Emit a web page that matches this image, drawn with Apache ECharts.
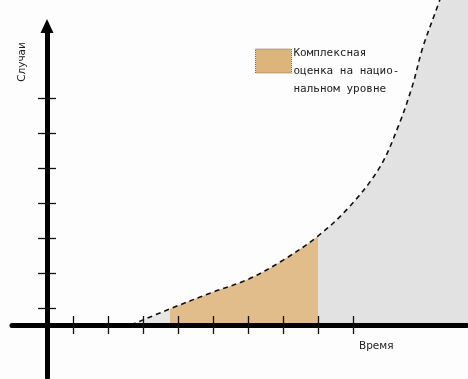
<!DOCTYPE html>
<html>
<head>
<meta charset="utf-8">
<script src="https://cdn.jsdelivr.net/npm/echarts@6.0.0/dist/echarts.min.js"></script>
<style>
  html, body { margin: 0; padding: 0; background: #fdfdfd; }
  #chart { width: 468px; height: 379px; }
</style>
</head>
<body>
<div id="chart"></div>
<script>
// epidemic curve, in tick units (time, cases)
const times = [2.4, 3.51, 4.74, 5.71, 6.66, 7.74, 8.66, 9.51, 10.03, 10.43, 10.74, 11.17, 11.6, 12.1]
const cases = [0, 0.46, 0.94, 1.29, 1.8, 2.54, 3.4, 4.51, 5.66, 6.8, 7.94, 9.14, 10.4, 12]

// stretch of time covered by the national estimate
const bandStart = 3.51
const bandEnd = 7.74

// tick marks on both axes
const xTicks = [0.74, 1.74, 2.74, 3.74, 4.74, 5.74, 6.74, 7.74, 8.74]
const yTicks = [0.49, 1.49, 2.49, 3.49, 4.49, 5.49, 6.49]

const legendName = 'Комплексная\nоценка на нацио-\nнальном уровне'
const xName = 'Время'
const yName = 'Случаи'

const chart = echarts.init(document.getElementById('chart'))

const tickStyle = { color: '#111', width: 1.3 }
const mkX = (main) => ({
  type: 'value',
  min: -1,
  max: 12,
  position: 'bottom',
  z: 10,
  axisLine: main
    ? { onZero: true, lineStyle: { color: '#000', width: 5 } }
    : { show: false, onZero: true },
  axisTick: { show: true, inside: !main, length: 9, customValues: xTicks, lineStyle: tickStyle },
  axisLabel: { show: false },
  splitLine: { show: false }
})
const mkY = (main) => ({
  type: 'value',
  min: -1.5,
  max: 8.5,
  position: 'left',
  z: 10,
  axisLine: main
    ? {
        onZero: true,
        symbol: ['none', 'triangle'],
        symbolSize: [13, 14],
        symbolOffset: [0, 1.5],
        lineStyle: { color: '#000', width: 5 }
      }
    : { show: false, onZero: true },
  axisTick: { show: true, inside: !main, length: 9, customValues: yTicks, lineStyle: tickStyle },
  axisLabel: { show: false },
  splitLine: { show: false }
})

const legendSwatch = { color: '#dcb57d', borderColor: '#8c6e3e', borderWidth: 1, borderType: 'dotted' }

const option = {
  backgroundColor: '#fdfdfd',
  animation: false,
  grid: { left: 12, right: 1, top: 27.5, bottom: 1.5 },
  xAxis: [mkX(true), mkX(false)],
  yAxis: [mkY(true), mkY(false)],
  legend: {
    left: 255,
    top: 24,
    padding: 0,
    orient: 'vertical',
    selectedMode: false,
    itemWidth: 36,
    itemHeight: 24,
    icon: 'rect',
    itemStyle: legendSwatch,
    // spacer line on top so the text hangs below the swatch's top edge
    formatter: (name) => '{s| }\n' + name,
    textStyle: {
      fontFamily: 'DejaVu Sans Mono',
      fontSize: 11,
      lineHeight: 18,
      color: '#222',
      padding: [0, 0, 0, -3],
      rich: { s: { fontSize: 4, lineHeight: 20 } }
    },
    data: [{ name: legendName, icon: 'rect', itemStyle: legendSwatch }]
  },
  visualMap: {
    type: 'piecewise',
    show: false,
    dimension: 0,
    seriesIndex: 0,
    pieces: [
      { lt: bandStart, color: '#e6e6e6' },
      { gte: bandStart, lte: bandEnd, color: '#e0bd8a' },
      { gt: bandEnd, color: '#e2e2e2' }
    ]
  },
  graphic: [
    {
      type: 'text',
      x: 22,
      y: 62,
      rotation: Math.PI / 2,
      style: {
        text: yName,
        fontFamily: 'DejaVu Sans',
        fontSize: 10.5,
        fill: '#222',
        align: 'center',
        verticalAlign: 'middle'
      }
    },
    {
      type: 'text',
      x: 359,
      y: 346,
      style: {
        text: xName,
        fontFamily: 'DejaVu Sans',
        fontSize: 10.5,
        fill: '#222',
        align: 'left',
        verticalAlign: 'middle'
      }
    }
  ],
  series: [
    {
      type: 'line',
      name: legendName,
      data: times.map((t, i) => [t, cases[i]]),
      smooth: 0.35,
      showSymbol: false,
      clip: false,
      lineStyle: { color: '#111', width: 1.6, type: [5, 4] },
      areaStyle: { opacity: 1 }
    }
  ]
}

chart.setOption(option)
</script>
</body>
</html>
